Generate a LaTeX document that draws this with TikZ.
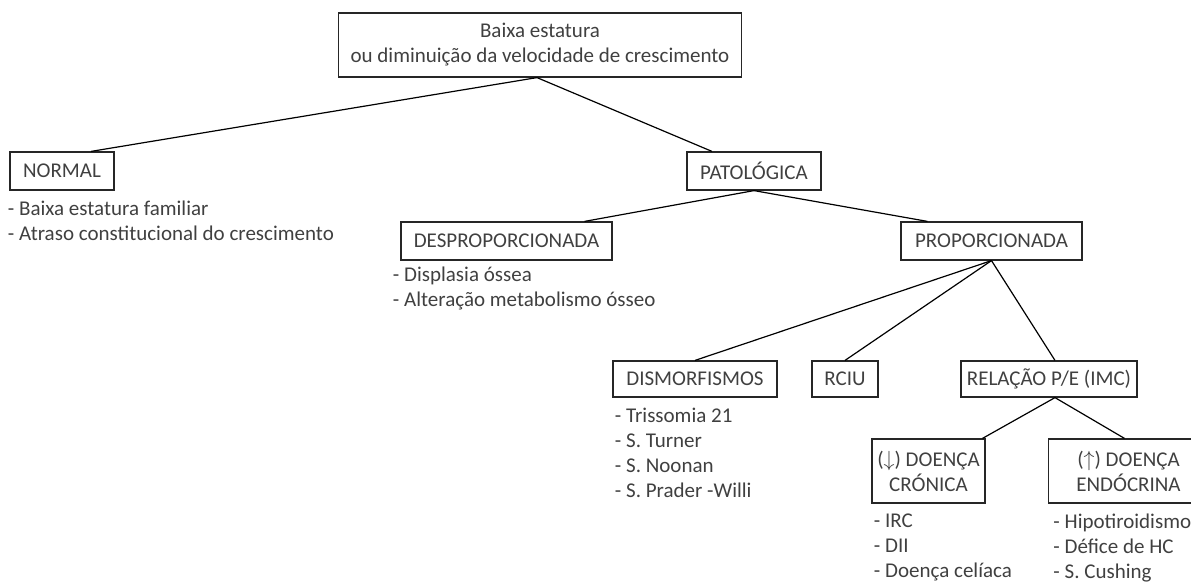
\documentclass[tikz,border=0pt]{standalone}
\usepackage{fontspec}
\setmainfont{Carlito}
\usetikzlibrary{positioning}

\begin{document}
\begin{tikzpicture}[auto, node distance=1cm and 2.5cm, on grid, line width=0.6pt, box/.style={draw=black!85, text=black!75, inner sep=2pt, minimum height=19pt, align=center, font=\fontsize{10.5}{12.5}\selectfont}, list/.style={text=black!75, inner sep=0pt, align=left, font=\fontsize{10.5}{12.5}\selectfont}]
	\useasboundingbox (-270pt,22.5pt) rectangle (325.5pt,-270pt);

	\node[box, minimum width=201.5pt, minimum height=32pt] (top) []{Baixa estatura\\ou diminuição da velocidade de crescimento};
	\node[box, minimum width=52pt] (normal) [below left=63pt and 239pt of top]{NORMAL};
	\node[box, minimum width=67pt] (pato) [below right=63pt and 107pt of top]{PATOLÓGICA};
	\node[box, minimum width=105.5pt] (desp) [below left=35pt and 123.75pt of pato]{DESPROPORCIONADA};
	\node[box, minimum width=90.5pt] (prop) [below right=35pt and 118.75pt of pato]{PROPORCIONADA};
	\node[box, minimum width=82pt, minimum height=18pt] (dism) [below left=69pt and 148.25pt of prop]{DISMORFISMOS};
	\node[box, minimum width=33pt, minimum height=18pt] (rciu) [right=75pt of dism]{RCIU};
	\node[box, minimum width=88pt, minimum height=18pt] (rel) [right=102pt of rciu]{RELAÇÃO P/E (IMC)};
	\node[box, minimum width=56.5pt, minimum height=32pt] (cron) [below left=46pt and 60.25pt of rel]{($\downarrow$) DOENÇA\\CRÓNICA};
	\node[box, minimum width=80pt, minimum height=32pt] (endo) [right=100pt of cron]{($\uparrow$) DOENÇA\\ENDÓCRINA};

	\node[list] (normallist) [below right=5pt and -1pt of normal.south west, anchor=north west]{- Baixa estatura familiar\\- Atraso constitucional do crescimento};
	\node[list] (desplist) [below right=3pt and -4pt of desp.south west, anchor=north west]{- Displasia óssea\\- Alteração metabolismo ósseo};
	\node[list] (dismlist) [below right=5pt and 1pt of dism.south west, anchor=north west]{- Trissomia 21\\- S. Turner\\- S. Noonan\\- S. Prader -Willi};
	\node[list] (cronlist) [below right=5pt and 1pt of cron.south west, anchor=north west]{- IRC\\- DII\\- Doença celíaca};
	\node[list] (endolist) [below right=5pt and 2.5pt of endo.south west, anchor=north west]{- Hipotiroidismo\\- Défice de HC\\- S. Cushing};

	\draw ([xshift=-1.5pt]top.south) -- ([xshift=14.5pt]normal.north);
	\draw ([xshift=-1.5pt]top.south) -- ([xshift=-21pt]pato.north);
	\draw (pato.south) -- ([xshift=39pt]desp.north);
	\draw (pato.south) -- ([xshift=-32pt]prop.north);
	\draw (prop.south) -- (dism.north);
	\draw (prop.south) -- (rciu.north);
	\draw (prop.south) -- ([xshift=3pt]rel.north);
	\draw ([xshift=3pt]rel.south) -- ([xshift=27pt]cron.north);
	\draw ([xshift=3pt]rel.south) -- ([xshift=-2pt]endo.north);

\end{tikzpicture}
\end{document}
